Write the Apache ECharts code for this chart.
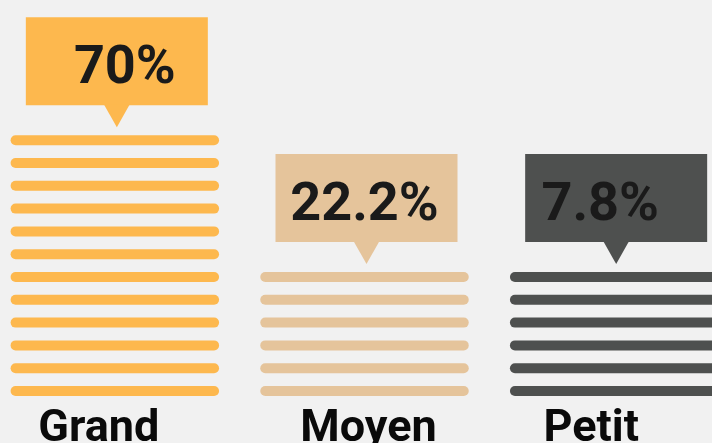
<html>
<head>
	<meta charset="UTF-8">
	<script src="https://cdn.jsdelivr.net/npm/echarts@6/dist/echarts.min.js"></script>
</head>
<body style="margin:0;background:#f1f1f1;">
<div id="main" style="width:712px;height:443px;"></div>
<script type="text/javascript">

        // data
        var categories = ['Grand', 'Moyen', 'Petit'];
        var shares = [70, 22.2, 7.8];
        var stripeCounts = [12, 6, 6];

        // styling
        var colors = ['#fdb84e', '#e5c49b', '#4e504f'];
        var labelShift = [-16, 4, -23];   // nudge of the category names, px
        var valueShift = [8, -2, -16];    // nudge of the percentages inside the boxes, px

        // one data item per stripe: [category index, stripe index]
        var stripeData = [];
        for (var c = 0; c < categories.length; c++) {
            for (var i = 0; i < stripeCounts[c]; i++) {
                stripeData.push([c, i]);
            }
        }
        // one callout per category, sitting on its top stripe
        var calloutData = [];
        for (var c = 0; c < categories.length; c++) {
            calloutData.push([c, stripeCounts[c] - 1, shares[c]]);
        }

        function renderStripe(params, api) {
            var p = api.coord([api.value(0), api.value(1)]);
            var w = api.size([1, 0])[0] * 0.835;
            return {
                type: 'rect',
                shape: { x: p[0] - w / 2, y: p[1] - 5, width: w, height: 10, r: 5 },
                style: { fill: colors[api.value(0)] }
            };
        }

        function renderCallout(params, api) {
            var c = api.value(0);
            var p = api.coord([c, api.value(1)]);
            var cx = p[0] + 2;
            var tip = p[1] - 13;
            var bottom = tip - 22;
            var top = bottom - 88;
            var col = colors[c];
            return {
                type: 'group',
                children: [
                    { type: 'rect', shape: { x: cx - 91, y: top, width: 182, height: 88 }, style: { fill: col } },
                    { type: 'polygon', shape: { points: [[cx - 13, bottom - 1], [cx + 13, bottom - 1], [cx, tip]] }, style: { fill: col } },
                    {
                        type: 'text',
                        x: cx + valueShift[c], y: top + 52,
                        style: {
                            text: api.value(2) + '%',
                            fill: '#1a1a1a',
                            font: 'bold 54px Roboto',
                            align: 'center',
                            verticalAlign: 'middle'
                        }
                    }
                ]
            };
        }

        var axisData = categories.map(function (name, k) {
            var s = labelShift[k];
            return {
                value: name,
                textStyle: { padding: s < 0 ? [0, -2 * s, 0, 0] : [0, 0, 0, 2 * s] }
            };
        });

        var chart = echarts.init(document.getElementById('main'));

        var option = {
            backgroundColor: '#f1f1f1',
            animation: false,
            grid: { left: -10, top: 0, width: 749, height: 391, containLabel: false, outerBoundsMode: 'none' },
            xAxis: {
                type: 'category',
                data: axisData,
                axisLine: { show: false },
                axisTick: { show: false },
                axisLabel: {
                    margin: 16,
                    color: '#0a0a0a',
                    fontFamily: 'Roboto',
                    fontWeight: 'bold',
                    fontSize: 45
                }
            },
            yAxis: {
                type: 'value',
                min: 0,
                max: 17.15,
                show: false,
                splitLine: { show: false }
            },
            series: [
                {
                    type: 'custom',
                    renderItem: renderStripe,
                    data: stripeData
                },
                {
                    type: 'custom',
                    renderItem: renderCallout,
                    data: calloutData
                }
            ]
        };

        chart.setOption(option);

</script>
</body>
</html>
